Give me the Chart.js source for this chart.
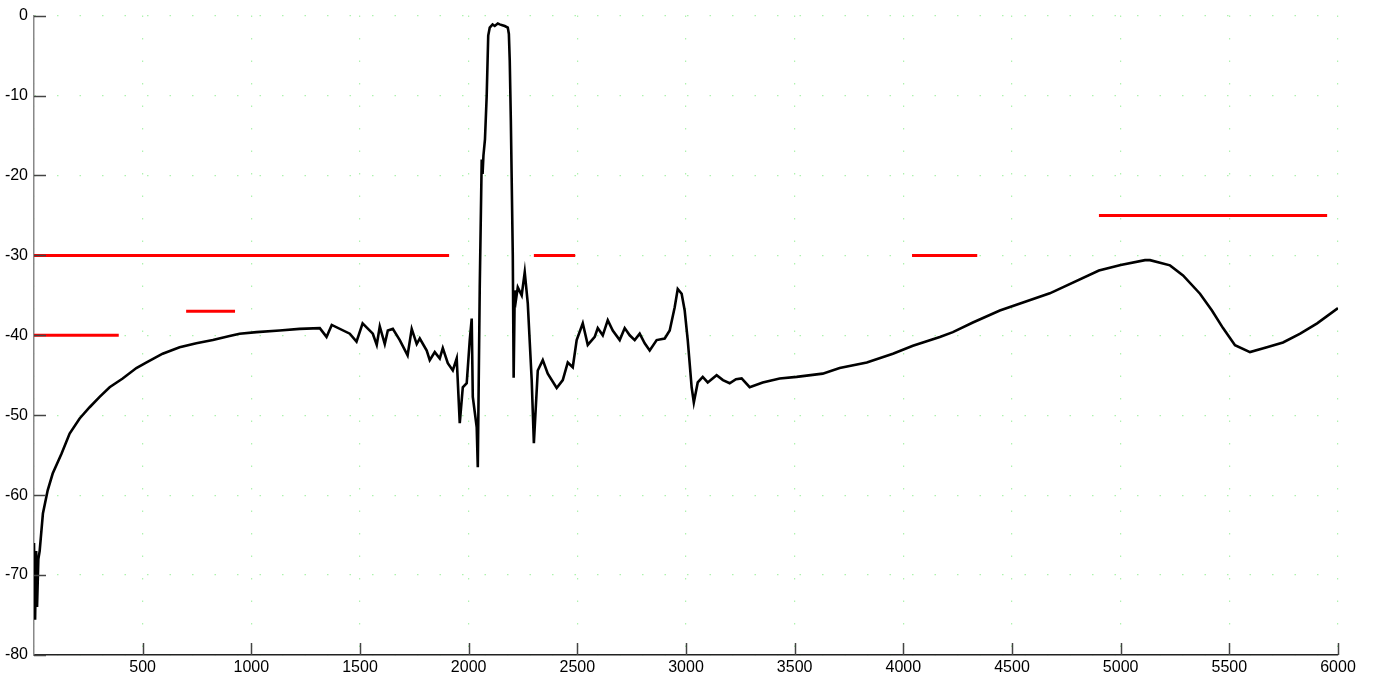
<!DOCTYPE html>
<html>
<head>
<meta charset="utf-8">
<script src="https://cdn.jsdelivr.net/npm/chart.js@4"></script>
<style>
  html, body { margin: 0; padding: 0; background: #fff; }
  #wrap { width: 1375px; height: 677px; }
</style>
</head>
<body>
<div id="wrap"><canvas id="plot"></canvas></div>
<script>
// ===== data =====
const waveX = [0, 5, 10, 14, 20, 26, 41, 63, 86, 127, 164, 210, 256, 302, 348, 408, 471, 518, 592, 670,
  747, 823, 900, 946, 1024, 1130, 1222, 1315, 1346, 1370, 1453, 1484, 1512, 1559, 1577, 1591, 1614, 1628, 1651, 1683,
  1719, 1738, 1761, 1775, 1807, 1821, 1844, 1867, 1881, 1904, 1927, 1945, 1959, 1973, 1991, 2005, 2014, 2019, 2037, 2042,
  2051, 2060, 2064, 2068, 2075, 2083, 2090, 2097, 2110, 2120, 2134, 2143, 2155, 2166, 2180, 2185, 2189, 2194, 2203, 2207,
  2212, 2218, 2226, 2244, 2258, 2272, 2290, 2300, 2318, 2341, 2364, 2405, 2433, 2456, 2479, 2497, 2525, 2548, 2580, 2594,
  2617, 2640, 2663, 2695, 2718, 2741, 2764, 2787, 2810, 2833, 2865, 2902, 2925, 2948, 2962, 2980, 2994, 3008, 3026, 3036,
  3054, 3077, 3100, 3141, 3170, 3201, 3230, 3256, 3293, 3353, 3431, 3509, 3629, 3707, 3832, 3952, 4044, 4168, 4228, 4320,
  4444, 4674, 4900, 5000, 5112, 5135, 5227, 5287, 5365, 5420, 5471, 5526, 5595, 5673, 5747, 5826, 5904, 6000];
const waveY = [-66, -75.6, -67, -74, -68, -67, -62.3, -59.4, -57.3, -54.8, -52.3, -50.4, -49, -47.7, -46.5, -45.4, -44.1, -43.4, -42.3, -41.5,
  -41, -40.6, -40.1, -39.8, -39.6, -39.4, -39.2, -39.1, -40.2, -38.7, -39.8, -40.8, -38.5, -39.8, -41.2, -38.9, -41.1, -39.4, -39.2, -40.6,
  -42.5, -39.2, -41.1, -40.4, -41.9, -43.1, -42.1, -42.9, -41.6, -43.5, -44.4, -42.9, -51, -46.5, -46, -40.6, -37.9, -47.7, -51.5, -56.5,
  -34, -18, -19.8, -17.5, -15.5, -10, -2.5, -1.5, -1.1, -1.3, -1, -1.1, -1.2, -1.3, -1.5, -2.3, -5.6, -13, -30, -45.3,
  -34.4, -35.5, -34, -35, -32.1, -36, -45.6, -53.5, -44.4, -43.1, -44.8, -46.6, -45.6, -43.4, -44, -40.6, -38.5, -41.2, -40.2, -39.1,
  -40, -38.1, -39.4, -40.6, -39.1, -40, -40.6, -39.8, -41, -41.9, -40.6, -40.4, -39.4, -36.5, -34.2, -34.8, -36.9, -40.6, -46.5, -48.4,
  -45.9, -45.2, -45.9, -45, -45.6, -46, -45.5, -45.4, -46.5, -45.9, -45.4, -45.2, -44.8, -44.1, -43.4, -42.3, -41.3, -40.2, -39.6, -38.4,
  -36.9, -34.75, -31.9, -31.2, -30.6, -30.6, -31.25, -32.5, -34.8, -36.9, -39.1, -41.25, -42.1, -41.5, -40.9, -39.8, -38.5, -36.6];

// red limit segments
const limitStart = [0, 700, 0, 2300, 4040, 4900];
const limitEnd = [390, 925, 1910, 2490, 4340, 5950];
const limitLevel = [-40, -37, -30, -30, -30, -25];

const xTicks = [0, 500, 1000, 1500, 2000, 2500, 3000, 3500, 4000, 4500, 5000, 5500, 6000];
const yTicks = [0, -10, -20, -30, -40, -50, -60, -70, -80];

// ===== datasets =====
const datasets = [{
  data: waveX.map((x, i) => ({ x, y: waveY[i] })),
  borderColor: "#000",
  borderWidth: 2.6,
  pointRadius: 0,
  tension: 0,
}];
limitStart.forEach((s, i) => {
  datasets.push({
    data: [{ x: s, y: limitLevel[i] }, { x: limitEnd[i], y: limitLevel[i] }],
    borderColor: "#ff0000",
    borderWidth: 3,
    pointRadius: 0,
  });
});

// ticks drawn inward, matlab style
const inwardTicks = {
  id: "inwardTicks",
  afterDraw(chart) {
    const { ctx, chartArea: a, scales } = chart;
    ctx.save();
    ctx.lineWidth = 1.5;
    ctx.strokeStyle = "#444";
    yTicks.forEach((v) => {
      const y = Math.round(scales.y.getPixelForValue(v)) + 0.5;
      ctx.beginPath();
      ctx.moveTo(a.left, y);
      ctx.lineTo(a.left + 12, y);
      ctx.stroke();
    });
    xTicks.slice(1).forEach((v) => {
      const x = Math.round(scales.x.getPixelForValue(v)) + 0.5;
      ctx.beginPath();
      ctx.moveTo(x, a.bottom);
      ctx.lineTo(x, a.bottom - 12);
      ctx.stroke();
    });
    ctx.restore();
  },
};

const gridStyle = {
  color: "rgba(120, 235, 120, 0.6)",
  lineWidth: 1.2,
  drawTicks: false,
};

new Chart(document.getElementById("plot"), {
  type: "line",
  data: { datasets },
  options: {
    responsive: true,
    maintainAspectRatio: false,
    animation: false,
    layout: { padding: { top: 15, right: 37, left: 0, bottom: 0 } },
    plugins: { legend: { display: false }, tooltip: { enabled: false } },
    scales: {
      x: {
        type: "linear",
        min: 0,
        max: 6000,
        afterBuildTicks: (s) => { s.ticks = xTicks.map((v) => ({ value: v })); },
        afterFit: (s) => { s.height = 22; },
        ticks: {
          color: "#000",
          padding: 3,
          maxRotation: 0,
          font: { family: "Liberation Sans", size: 16 },
          callback: (v) => (v === 0 ? "" : v),
        },
        grid: gridStyle,
        border: { color: "#222", width: 1.5, dash: [1.5, 21] },
      },
      y: {
        min: -80,
        max: 0,
        afterBuildTicks: (s) => { s.ticks = yTicks.map((v) => ({ value: v })); },
        afterFit: (s) => { s.width = 34; },
        ticks: {
          color: "#000",
          padding: 6,
          font: { family: "Liberation Sans", size: 16 },
        },
        grid: gridStyle,
        border: { color: "#888", width: 1.5, dash: [1.5, 21] },
      },
    },
  },
  plugins: [inwardTicks],
});
</script>
</body>
</html>
